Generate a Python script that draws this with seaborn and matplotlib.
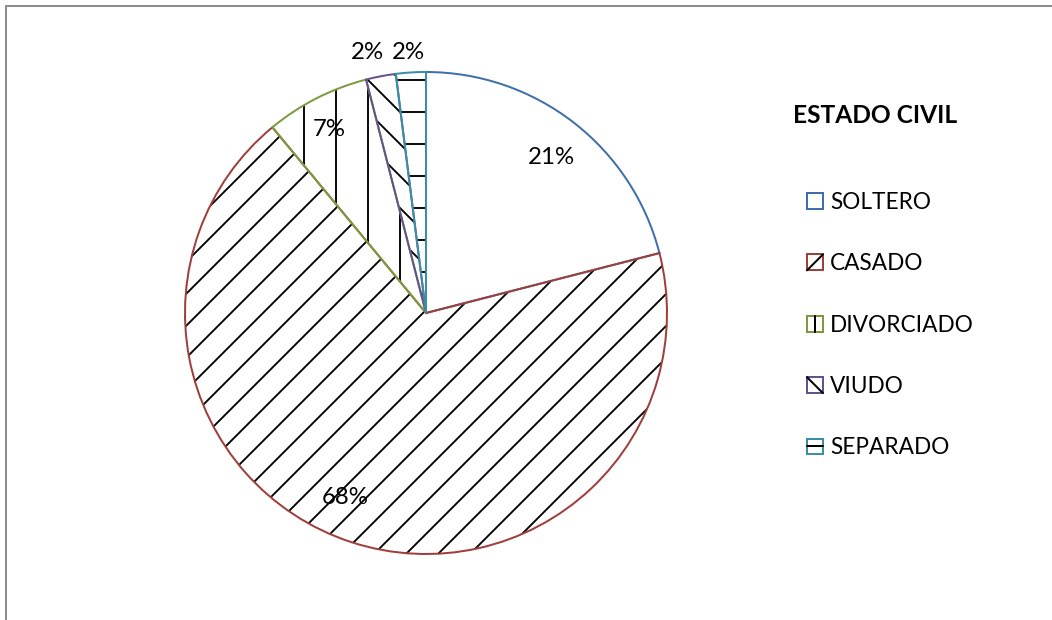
import matplotlib
matplotlib.use('Agg')
import matplotlib.pyplot as plt
import seaborn as sns
import numpy as np
from matplotlib.lines import Line2D
from matplotlib.patches import Rectangle
from matplotlib.legend_handler import HandlerBase
from matplotlib.transforms import offset_copy

categories = ['SOLTERO', 'CASADO', 'DIVORCIADO', 'VIUDO', 'SEPARADO']
values = [21, 68, 7, 2, 2]
hatches = ['', '//', '|', '\\\\', '-']
edge_colors = ['#3F6FAA', '#9E3F3C', '#7C9A40', '#67518A', '#3A8FA6']
label_dist = [0.835, 0.826, 0.87, 1.12, 1.095]
label_angle_offset = [-0.6, -6.0, 0.5, 1.8, 0.3]
title = 'ESTADO CIVIL'

sns.set_theme(style='white')
plt.rcParams['font.family'] = ['Lato', 'DejaVu Sans']
plt.rcParams['hatch.linewidth'] = 0.7

DPI = 192
W, H = 1052, 620
fig = plt.figure(figsize=(W / DPI, H / DPI), dpi=DPI)
fig.patch.set_facecolor('white')

cx, cy, r = 426, 313, 241
ax = fig.add_axes([(cx - r) / W, (H - cy - r) / H, 2 * r / W, 2 * r / H])
w1, _ = ax.pie(values, startangle=90, counterclock=False, radius=1,
               colors=['white'] * len(values),
               wedgeprops=dict(edgecolor='black', linewidth=0))
for w, h in zip(w1, hatches):
    w.set_hatch(h)
w2, _ = ax.pie(values, startangle=90, counterclock=False, radius=1,
               colors=['none'] * len(values),
               wedgeprops=dict(linewidth=0.75))
for w, c in zip(w2, edge_colors):
    w.set_edgecolor(c)
ax.set_xlim(-1, 1)
ax.set_ylim(-1, 1)
ax.set_aspect('equal')
ax.axis('off')

txt_tr = offset_copy(ax.transData, fig=fig, x=0, y=-2.5, units='dots')
for w, v, d, off in zip(w2, values, label_dist, label_angle_offset):
    th = np.deg2rad((w.theta1 + w.theta2) / 2 + off)
    ax.text(d * np.cos(th), d * np.sin(th), f'{v}%', ha='center', va='center',
            fontsize=9, color='black', transform=txt_tr)

fig.text(793 / W, 1 - 115 / H, title, ha='left', va='center',
         fontsize=9.2, fontweight='bold', color='black')


class BoxHandler(HandlerBase):
    def __init__(self, color, kind):
        super().__init__()
        self.color = color
        self.kind = kind

    def create_artists(self, legend, orig_handle, xdescent, ydescent,
                       width, height, fontsize, trans):
        x0, y0 = -xdescent, -ydescent
        s = min(width, height)
        y0 = y0 + (height - s) / 2
        arts = []
        k = self.kind
        if k.startswith('/'):
            xs, ys = [x0, x0 + s], [y0, y0 + s]
        elif k.startswith('\\'):
            xs, ys = [x0, x0 + s], [y0 + s, y0]
        elif k.startswith('|'):
            xs, ys = [x0 + s / 2, x0 + s / 2], [y0, y0 + s]
        elif k.startswith('-'):
            xs, ys = [x0, x0 + s], [y0 + s / 2, y0 + s / 2]
        else:
            xs, ys = None, None
        rect = Rectangle((x0, y0), s, s, facecolor='white', edgecolor=self.color,
                         lw=0.75, transform=trans)
        arts.append(rect)
        if xs is not None:
            arts.append(Line2D(xs, ys, color='black', lw=0.75, transform=trans))
        return arts


handler_map = {w: BoxHandler(c, h) for w, c, h in zip(w1, edge_colors, hatches)}
fig.legend(w1, categories, handler_map=handler_map,
           loc='upper left', bbox_to_anchor=(807 / W, 1 - 192 / H),
           frameon=False, borderpad=0, borderaxespad=0,
           handlelength=0.7, handleheight=0.7, handletextpad=0.32,
           labelspacing=1.78, fontsize=8.5, labelcolor='black')

fig.add_artist(Line2D([6 / W, 6 / W], [0, 1 - 6 / H], transform=fig.transFigure,
                      color='#8c8c8c', lw=0.75))
fig.add_artist(Line2D([6 / W, 1], [1 - 6 / H, 1 - 6 / H], transform=fig.transFigure,
                      color='#8c8c8c', lw=0.75))

fig.savefig('out.png', dpi=DPI, facecolor='white')
